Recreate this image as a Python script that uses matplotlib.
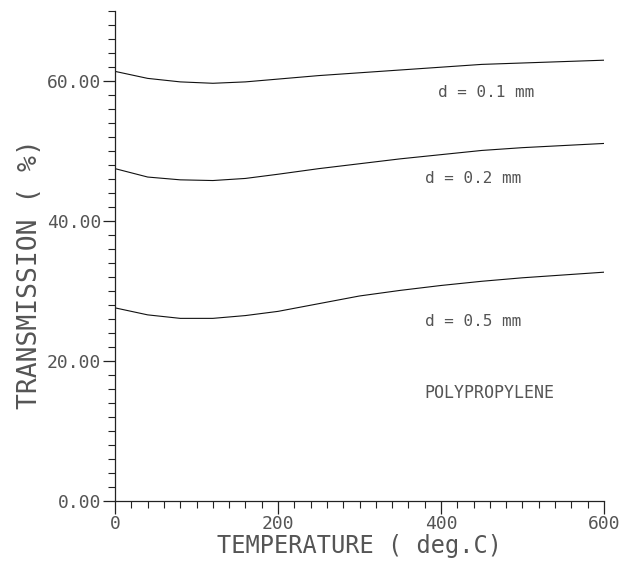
import numpy as np
import matplotlib
matplotlib.use("Agg")
import matplotlib.pyplot as plt
from matplotlib.ticker import MultipleLocator, FormatStrFormatter

# Werte
temperature = [0, 40, 80, 120, 160, 200, 250, 300, 350, 400, 450, 500, 550, 600]
trans_01 = [61.4, 60.4, 59.9, 59.7, 59.9, 60.3, 60.8, 61.2, 61.6, 62.0, 62.4, 62.6, 62.8, 63.0]
trans_02 = [47.5, 46.3, 45.9, 45.8, 46.1, 46.7, 47.5, 48.2, 48.9, 49.5, 50.1, 50.5, 50.8, 51.1]
trans_05 = [27.6, 26.6, 26.1, 26.1, 26.5, 27.1, 28.2, 29.3, 30.1, 30.8, 31.4, 31.9, 32.3, 32.7]

labels = ["d = 0.1 mm", "d = 0.2 mm", "d = 0.5 mm"]
label_pos = [(396, 58.4), (380, 46.1), (380, 25.6)]
material = "POLYPROPYLENE"

plt.rcParams['font.family'] = ['DejaVu Sans Mono']
ink = '#555555'

fig = plt.figure(figsize=(6.22, 5.61), dpi=100)
ax = fig.add_axes([0.185, 0.107, 0.786, 0.873])

for series in (trans_01, trans_02, trans_05):
    ax.plot(temperature, series, color='#111111', lw=0.8)

for txt, (x, y) in zip(labels, label_pos):
    ax.text(x, y, txt, fontsize=11.5, color=ink, ha='left', va='center')
ax.text(380, 15.4, material, fontsize=12, color=ink, ha='left', va='center')

ax.set_xlim(0, 600)
ax.set_ylim(0, 70)
ax.xaxis.set_major_locator(MultipleLocator(200))
ax.xaxis.set_minor_locator(MultipleLocator(20))
ax.yaxis.set_major_locator(MultipleLocator(20))
ax.yaxis.set_minor_locator(MultipleLocator(2))
ax.yaxis.set_major_formatter(FormatStrFormatter('%.2f'))
ax.xaxis.set_major_formatter(FormatStrFormatter('%d'))

ax.spines['top'].set_visible(False)
ax.spines['right'].set_visible(False)
for s in ('left', 'bottom'):
    ax.spines[s].set_linewidth(0.9)
    ax.spines[s].set_color('#222222')

ax.tick_params(which='major', direction='out', length=9, width=0.9, labelsize=13, colors='#222222', labelcolor=ink, pad=1)
ax.tick_params(which='minor', direction='out', length=5, width=0.8, colors='#222222')

ax.set_xlabel("TEMPERATURE ( deg.C)", fontsize=17, color=ink, labelpad=1)
ax.set_ylabel("TRANSMISSION ( %)", fontsize=19, color=ink)
ax.yaxis.set_label_coords(-0.147, 0.464)

fig.savefig("out.png", dpi=100)
